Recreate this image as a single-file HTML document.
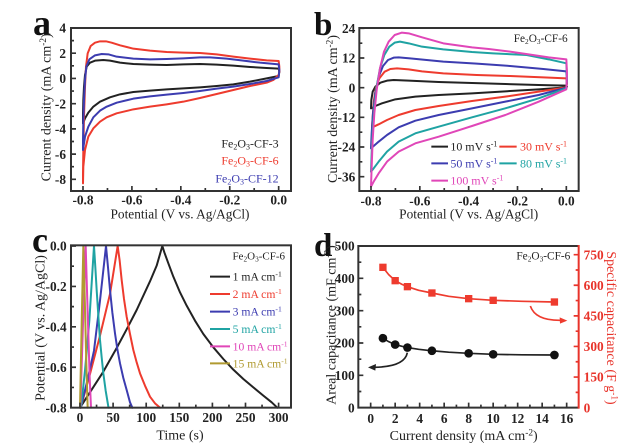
<!DOCTYPE html>
<html><head><meta charset="utf-8">
<style>
html,body{margin:0;padding:0;background:#fff}
svg{display:block}
text{font-family:"Liberation Serif","Times New Roman",serif}
</style></head>
<body>
<svg width="644" height="448" viewBox="0 0 644 448" xmlns="http://www.w3.org/2000/svg">
<rect x="0" y="0" width="644" height="448" fill="#fff"/>

<!-- Panel letters -->
<text x="33" y="35" font-size="36" font-weight="bold" fill="#111">a</text>
<text x="314" y="35" font-size="33" font-weight="bold" fill="#111">b</text>
<text x="32" y="252" font-size="36" font-weight="bold" fill="#111">c</text>
<text x="314" y="256" font-size="33" font-weight="bold" fill="#111">d</text>

<!-- ================= PANEL A ================= -->
<g transform="scale(0.333333)">
  <g fill="none" stroke-width="6" stroke-linejoin="round" stroke-linecap="round">
    <polyline stroke="#222" points="249,370 249,340 250,300 252,260 255,225 260,200 270,188 285,182 310,180 330,182 360,188 400,192 450,194 500,195 550,193 600,192 650,194 700,197 750,201 800,204 836,206 838,215 836,228 800,235 750,245 700,253 650,258 600,262 550,265 500,268 450,272 400,276 360,283 330,292 300,305 280,320 265,338 255,355 249,370"/>
    <polyline stroke="#ee3b2e" points="249,550 249,520 250,450 252,350 255,260 258,200 263,160 272,138 285,128 300,124 318,124 335,128 360,136 400,146 450,152 500,156 550,158 600,159 650,163 700,170 750,176 800,181 836,183 838,200 838,215 836,225 820,240 800,248 750,258 700,270 650,282 600,294 550,305 500,313 450,320 400,328 350,340 320,352 300,365 280,385 265,410 255,450 250,500 249,550"/>
    <polyline stroke="#3c3cb0" points="249,450 249,420 250,360 252,300 255,240 259,200 268,178 285,166 305,162 325,163 350,170 400,176 450,178 500,177 550,175 600,172 630,172 680,176 730,182 780,188 836,193 838,210 836,232 800,243 750,252 700,260 650,266 600,273 550,279 500,284 450,289 400,296 350,308 320,320 300,332 280,352 265,380 255,410 249,450"/>
  </g>
  <rect x="213" y="84" width="660" height="489" fill="none" stroke="#333" stroke-width="6"/>
  <path stroke="#333" stroke-width="5" fill="none" d="M249,573v-15M395.75,573v-15M542.5,573v-15M689.25,573v-15M836,573v-15M322.4,573v-9M469.1,573v-9M615.9,573v-9M762.6,573v-9M213,84h15M213,159.67h15M213,235.33h15M213,311h15M213,386.67h15M213,462.33h15M213,538h15M213,121.83h9M213,197.5h9M213,273.17h9M213,348.83h9M213,424.5h9M213,500.17h9"/>
  <g font-size="40" font-weight="bold" fill="#222" text-anchor="end">
    <text x="198" y="98">4</text><text x="198" y="173.7">2</text><text x="198" y="249.3">0</text>
    <text x="198" y="325">-2</text><text x="198" y="400.7">-4</text><text x="198" y="476.3">-6</text><text x="198" y="552">-8</text>
  </g>
  <g font-size="40" font-weight="bold" fill="#222" text-anchor="middle">
    <text x="249" y="614">-0.8</text><text x="395.75" y="614">-0.6</text><text x="542.5" y="614">-0.4</text><text x="689.25" y="614">-0.2</text><text x="836" y="614">0.0</text>
  </g>
  <text x="540" y="655" text-anchor="middle" font-size="40" fill="#222">Potential (V vs. Ag/AgCl)</text>
  <text transform="translate(152,322) rotate(-90)" text-anchor="middle" font-size="42" fill="#222">Current density (mA cm<tspan font-size="28" dy="-14">-2</tspan><tspan dy="14">)</tspan></text>
  <g font-size="36" text-anchor="end">
    <text x="836" y="442" fill="#222">Fe<tspan font-size="24" dy="6">2</tspan><tspan dy="-6">O</tspan><tspan font-size="24" dy="6">3</tspan><tspan dy="-6">-CF-3</tspan></text>
    <text x="836" y="494" fill="#ee3b2e">Fe<tspan font-size="24" dy="6">2</tspan><tspan dy="-6">O</tspan><tspan font-size="24" dy="6">3</tspan><tspan dy="-6">-CF-6</tspan></text>
    <text x="836" y="547" fill="#3c3cb0">Fe<tspan font-size="24" dy="6">2</tspan><tspan dy="-6">O</tspan><tspan font-size="24" dy="6">3</tspan><tspan dy="-6">-CF-12</tspan></text>
  </g>
</g>

<!-- ================= PANEL B ================= -->
<g transform="translate(322,0) scale(0.333333)">
  <g fill="none" stroke-width="6" stroke-linejoin="round" stroke-linecap="round">
    <polyline stroke="#222" points="147,325 148,300 152,275 160,260 175,248 195,242 215,240 260,242 350,246 450,249 550,252 650,255 733,257 735,260 733,262 650,268 550,274 450,280 350,285 280,290 220,298 180,310 160,318 150,324 147,325"/>
    <polyline stroke="#ee3b2e" points="150,383 152,350 156,300 162,262 172,235 188,215 205,207 225,205 260,208 300,214 364,220 464,225 564,228 664,232 733,235 735,250 733,262 650,275 550,290 450,303 350,318 280,330 230,345 195,360 170,373 155,380 150,383"/>
    <polyline stroke="#3c3cb0" points="147,445 149,400 153,340 160,280 170,230 183,198 198,180 215,173 230,172 264,175 364,185 464,191 564,198 664,207 733,214 735,240 733,263 650,285 550,305 450,325 350,345 280,362 230,382 195,405 170,425 155,438 147,445"/>
    <polyline stroke="#1fa3a3" points="147,515 149,460 152,390 157,320 164,260 174,205 187,165 202,140 218,128 234,125 260,130 300,140 364,148 450,156 514,160 614,165 680,178 733,190 735,230 733,265 650,295 550,325 450,352 350,380 280,400 230,425 195,455 170,485 155,505 147,515"/>
    <polyline stroke="#e046b8" points="147,560 149,500 152,420 157,340 164,270 174,205 186,155 200,125 218,105 239,98 260,100 300,112 364,130 450,142 500,147 564,155 620,163 680,172 733,178 735,220 733,268 650,305 550,345 450,378 350,410 280,430 230,455 195,485 170,520 155,545 147,560"/>
  </g>
  <rect x="112" y="84" width="658" height="489" fill="none" stroke="#333" stroke-width="6"/>
  <path stroke="#333" stroke-width="5" fill="none" d="M147,573v-15M293.5,573v-15M440,573v-15M586.5,573v-15M733,573v-15M220.25,573v-9M366.75,573v-9M513.25,573v-9M659.75,573v-9M112,85h15M112,174h15M112,263h15M112,352h15M112,441h15M112,530h15M112,129.5h9M112,218.5h9M112,307.5h9M112,396.5h9M112,485.5h9"/>
  <g font-size="40" font-weight="bold" fill="#222" text-anchor="end">
    <text x="100" y="99">24</text><text x="100" y="188">12</text><text x="100" y="277">0</text>
    <text x="100" y="366">-12</text><text x="100" y="455">-24</text><text x="100" y="544">-36</text>
  </g>
  <g font-size="40" font-weight="bold" fill="#222" text-anchor="middle">
    <text x="147" y="617">-0.8</text><text x="293.5" y="617">-0.6</text><text x="440" y="617">-0.4</text><text x="586.5" y="617">-0.2</text><text x="733" y="617">0.0</text>
  </g>
  <text x="440" y="655" text-anchor="middle" font-size="40" fill="#222">Potential (V vs. Ag/AgCl)</text>
  <text transform="translate(45,327) rotate(-90)" text-anchor="middle" font-size="42" fill="#222">Current density (mA cm<tspan font-size="28" dy="-14">-2</tspan><tspan dy="14">)</tspan></text>
  <text x="737" y="126" text-anchor="end" font-size="34" fill="#222">Fe<tspan font-size="22" dy="6">2</tspan><tspan dy="-6">O</tspan><tspan font-size="22" dy="6">3</tspan><tspan dy="-6">-CF-6</tspan></text>
  <g stroke-width="6" fill="none">
    <path stroke="#222" d="M328,440h50"/>
    <path stroke="#ee3b2e" d="M532,440h52"/>
    <path stroke="#3c3cb0" d="M328,490h50"/>
    <path stroke="#1fa3a3" d="M532,490h52"/>
    <path stroke="#e046b8" d="M328,542h50"/>
  </g>
  <g font-size="36">
    <text x="385" y="452" fill="#222">10 mV s<tspan font-size="24" dy="-12">-1</tspan></text>
    <text x="594" y="452" fill="#ee3b2e">30 mV s<tspan font-size="24" dy="-12">-1</tspan></text>
    <text x="385" y="502" fill="#3c3cb0">50 mV s<tspan font-size="24" dy="-12">-1</tspan></text>
    <text x="594" y="502" fill="#1fa3a3">80 mV s<tspan font-size="24" dy="-12">-1</tspan></text>
    <text x="385" y="554" fill="#e046b8">100 mV s<tspan font-size="24" dy="-12">-1</tspan></text>
  </g>
</g>

<!-- ================= PANEL C ================= -->
<g transform="translate(0,224) scale(0.333333)">
  <g fill="none" stroke-width="6" stroke-linejoin="round" stroke-linecap="round">
    <polyline stroke="#222" points="240,551 275,497 310,443 350,372 380,316 410,258 450,172 470,125 487,66 493,85 505,118 520,158 540,205 560,245 585,290 610,330 640,370 670,405 700,437 730,465 760,490 790,515 815,535 832,551"/>
    <polyline stroke="#ee3b2e" points="242,551 270,450 300,335 330,210 353,66 359,110 365,168 372,225 380,278 390,330 400,378 410,415 420,448 435,485 450,518 465,538 480,551"/>
    <polyline stroke="#3c3cb0" points="242,551 262,470 282,380 300,230 318,66 324,130 330,198 337,265 345,328 352,375 360,418 370,462 380,498 390,535 397,551"/>
    <polyline stroke="#1fa3a3" points="243,551 255,440 268,290 282,66 286,130 290,198 295,275 300,348 305,400 310,448 317,500 325,548 327,551"/>
    <polyline stroke="#e046b8" points="241,551 249,300 257,66 261,200 265,330 269,460 273,551"/>
    <polyline stroke="#b09a30" points="240,551 245,300 250,66 255,250 259,420 263,551"/>
  </g>
  <rect x="213" y="64" width="660" height="487" fill="none" stroke="#333" stroke-width="6"/>
  <path stroke="#333" stroke-width="5" fill="none" d="M240,551v-15M339.3,551v-15M438.6,551v-15M537.9,551v-15M637.2,551v-15M736.5,551v-15M835.8,551v-15M289.65,551v-9M388.95,551v-9M488.25,551v-9M587.55,551v-9M686.85,551v-9M786.15,551v-9M213,66h15M213,187.25h15M213,308.5h15M213,429.75h15M213,126.6h9M213,247.9h9M213,369.1h9M213,490.4h9"/>
  <g font-size="40" font-weight="bold" fill="#222" text-anchor="end">
    <text x="200" y="80">0.0</text><text x="200" y="201">-0.2</text><text x="200" y="322.5">-0.4</text><text x="200" y="443.7">-0.6</text><text x="200" y="565">-0.8</text>
  </g>
  <g font-size="40" font-weight="bold" fill="#222" text-anchor="middle">
    <text x="240" y="594">0</text><text x="339.3" y="594">50</text><text x="438.6" y="594">100</text><text x="537.9" y="594">150</text><text x="637.2" y="594">200</text><text x="736.5" y="594">250</text><text x="835.8" y="594">300</text>
  </g>
  <text x="540" y="646" text-anchor="middle" font-size="42" fill="#222">Time (s)</text>
  <text transform="translate(133,312) rotate(-90)" text-anchor="middle" font-size="42" fill="#222">Potential (V vs. Ag/AgCl)</text>
  <text x="855" y="107" text-anchor="end" font-size="33" fill="#222">Fe<tspan font-size="22" dy="6">2</tspan><tspan dy="-6">O</tspan><tspan font-size="22" dy="6">3</tspan><tspan dy="-6">-CF-6</tspan></text>
  <g stroke-width="6" fill="none">
    <path stroke="#222" d="M630,158h60"/>
    <path stroke="#ee3b2e" d="M630,210h60"/>
    <path stroke="#3c3cb0" d="M630,263h60"/>
    <path stroke="#1fa3a3" d="M630,315h60"/>
    <path stroke="#e046b8" d="M630,367h60"/>
    <path stroke="#b09a30" d="M630,418h60"/>
  </g>
  <g font-size="35">
    <text x="698" y="170" fill="#222">1 mA cm<tspan font-size="23" dy="-12">-1</tspan></text>
    <text x="698" y="222" fill="#ee3b2e">2 mA cm<tspan font-size="23" dy="-12">-1</tspan></text>
    <text x="698" y="275" fill="#3c3cb0">3 mA cm<tspan font-size="23" dy="-12">-1</tspan></text>
    <text x="698" y="327" fill="#1fa3a3">5 mA cm<tspan font-size="23" dy="-12">-1</tspan></text>
    <text x="698" y="379" fill="#e046b8">10 mA cm<tspan font-size="23" dy="-12">-1</tspan></text>
    <text x="698" y="430" fill="#b09a30">15 mA cm<tspan font-size="23" dy="-12">-1</tspan></text>
  </g>
</g>

<!-- ================= PANEL D ================= -->
<g transform="translate(322,224) scale(0.333333)">
  <path stroke="#333" stroke-width="6" fill="none" d="M770,66H109V551H770"/>
  <path stroke="#e8332a" stroke-width="6" fill="none" d="M770,63V554"/>
  <path stroke="#333" stroke-width="5" fill="none" d="M146,551v-15M219.5,551v-15M293,551v-15M366.5,551v-15M440,551v-15M513.5,551v-15M587,551v-15M660.5,551v-15M734,551v-15M182.75,551v-9M256.25,551v-9M329.75,551v-9M403.25,551v-9M476.75,551v-9M550.25,551v-9M623.75,551v-9M697.25,551v-9M109,66h15M109,163h15M109,260h15M109,357h15M109,454h15M109,114.5h9M109,211.5h9M109,308.5h9M109,405.5h9M109,502.5h9"/>
  <path stroke="#e8332a" stroke-width="5" fill="none" d="M770,92h-15M770,183.8h-15M770,275.6h-15M770,367.4h-15M770,459.2h-15M770,138h-9M770,229.7h-9M770,321.5h-9M770,413.3h-9M770,505.1h-9"/>
  <polyline fill="none" stroke="#ee3b2e" stroke-width="5" stroke-linejoin="round" points="182.75,130 200,152 219.5,170 240,181 256.25,188 290,199 329.75,207 380,217 440,224 513.5,229 600,232 697.25,234"/>
  <g fill="#ee3b2e">
    <rect x="171.75" y="119" width="22" height="22"/><rect x="208.5" y="159" width="22" height="22"/><rect x="245.25" y="177" width="22" height="22"/><rect x="318.75" y="196" width="22" height="22"/><rect x="429" y="213" width="22" height="22"/><rect x="502.5" y="218" width="22" height="22"/><rect x="686.25" y="223" width="22" height="22"/>
  </g>
  <polyline fill="none" stroke="#222" stroke-width="5" stroke-linejoin="round" points="182.75,342.5 200,353 219.5,361.8 240,367 256.25,370.6 290,376 329.75,380.3 380,384.5 440,388 513.5,391 600,392.5 697.25,393"/>
  <g fill="#111">
    <circle cx="182.75" cy="342.5" r="13"/><circle cx="219.5" cy="361.8" r="13"/><circle cx="256.25" cy="370.6" r="13"/><circle cx="329.75" cy="380.3" r="13"/><circle cx="440" cy="388" r="13"/><circle cx="513.5" cy="391" r="13"/><circle cx="697.25" cy="393" r="13"/>
  </g>
  <path d="M256,386 Q248,428 158,430" fill="none" stroke="#222" stroke-width="5"/>
  <path d="M138,430 L162,420 L160,440 Z" fill="#222"/>
  <path d="M625,246 Q640,290 716,289" fill="none" stroke="#ee3b2e" stroke-width="5"/>
  <path d="M736,290 L713,280 L714,299 Z" fill="#ee3b2e"/>
  <g font-size="40" font-weight="bold" fill="#222" text-anchor="end">
    <text x="98" y="80">500</text><text x="98" y="177">400</text><text x="98" y="274">300</text><text x="98" y="371">200</text><text x="98" y="468">100</text><text x="98" y="565">0</text>
  </g>
  <g font-size="40" font-weight="bold" fill="#e8332a" text-anchor="start">
    <text x="785" y="106">750</text><text x="785" y="197.8">600</text><text x="785" y="289.6">450</text><text x="785" y="381.4">300</text><text x="785" y="473.2">150</text><text x="785" y="565">0</text>
  </g>
  <g font-size="40" font-weight="bold" fill="#222" text-anchor="middle">
    <text x="146" y="597">0</text><text x="219.5" y="597">2</text><text x="293" y="597">4</text><text x="366.5" y="597">6</text><text x="440" y="597">8</text><text x="513.5" y="597">10</text><text x="587" y="597">12</text><text x="660.5" y="597">14</text><text x="734" y="597">16</text>
  </g>
  <text x="425" y="648" text-anchor="middle" font-size="42" fill="#222">Current density (mA cm<tspan font-size="28" dy="-14">-2</tspan><tspan dy="14">)</tspan></text>
  <text transform="translate(40,303) rotate(-90)" text-anchor="middle" font-size="42" fill="#222">Areal capacitance (mF cm<tspan font-size="28" dy="-14">-2</tspan><tspan dy="14">)</tspan></text>
  <text transform="translate(855,312) rotate(90)" text-anchor="middle" font-size="42" fill="#e8332a">Specific capacitance (F g<tspan font-size="28" dy="-14">-1</tspan><tspan dy="14">)</tspan></text>
  <text x="745" y="107" text-anchor="end" font-size="34" fill="#222">Fe<tspan font-size="22" dy="6">2</tspan><tspan dy="-6">O</tspan><tspan font-size="22" dy="6">3</tspan><tspan dy="-6">-CF-6</tspan></text>
</g>
</svg>
</body></html>
